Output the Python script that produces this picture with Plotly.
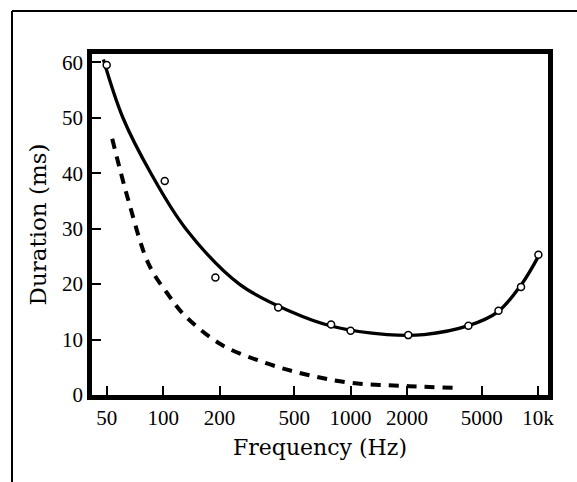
import plotly.graph_objects as go

# Measured durations (open circles)
point_freq = [50, 102, 190, 411, 787, 1000, 2030, 4250, 6150, 8110, 10040]
point_dur = [59.5, 38.6, 21.2, 15.8, 12.7, 11.6, 10.8, 12.5, 15.2, 19.5, 25.3]

# Smooth fitted curve (solid)
fit_freq = [48, 61, 86, 132, 255, 482, 794, 1567, 2465, 4250, 6100, 8180, 10040]
fit_dur = [60.5, 50.0, 40.0, 30.0, 20.0, 15.0, 12.4, 10.9, 10.9, 12.5, 15.0, 20.0, 25.0]

# Comparison curve (dashed)
dash_freq = [53.5, 65.5, 84, 108, 129, 204, 351, 578, 1000, 2055, 3540]
dash_dur = [46.2, 34.9, 23.5, 17.8, 14.5, 9.1, 5.8, 3.7, 2.2, 1.6, 1.3]

tick_vals = [50, 100, 200, 500, 1000, 2000, 5000, 10000]
tick_text = ["50", "100", "200", "500", "1000", "2000", "5000", "10k"]
y_ticks = [0, 10, 20, 30, 40, 50, 60]

fig = go.Figure()

fig.add_trace(go.Scatter(
    x=dash_freq, y=dash_dur, mode="lines",
    line=dict(color="black", width=4, dash="10px,8px", shape="spline", smoothing=1.0),
    hoverinfo="skip", showlegend=False,
))
fig.add_trace(go.Scatter(
    x=fit_freq, y=fit_dur, mode="lines",
    line=dict(color="black", width=3.3, shape="spline", smoothing=1.0),
    hoverinfo="skip", showlegend=False,
))
fig.add_trace(go.Scatter(
    x=point_freq, y=point_dur, mode="markers",
    marker=dict(symbol="circle", size=7, color="white",
                line=dict(color="black", width=1.5)),
    showlegend=False,
))

tick_font = dict(family="Liberation Serif", size=21, color="black")

fig.update_xaxes(
    type="log", range=[1.6205, 4.053],
    tickvals=tick_vals, ticktext=tick_text,
    ticks="inside", ticklen=9, tickwidth=2, tickcolor="black",
    showline=True, linewidth=4.5, linecolor="black", mirror=True,
    showgrid=False, zeroline=False, tickfont=tick_font,
    title=dict(text="Frequency (Hz)",
               font=dict(family="DejaVu Serif", size=22, color="black"),
               standoff=12),
)
fig.update_yaxes(
    range=[0, 61.5], tickvals=y_ticks,
    ticks="inside", ticklen=9, tickwidth=2, tickcolor="black",
    showline=True, linewidth=4.5, linecolor="black", mirror=True,
    showgrid=False, zeroline=False, tickfont=tick_font,
    title=dict(text="Duration (ms)",
               font=dict(family="DejaVu Serif", size=23, color="black"),
               standoff=10),
)

# Outer frame around the figure (left and top edges visible)
L, R, T, B = 92, 548, 54, 395
fx = (12 - L) / (R - L)
fy = (B - 11) / (B - T)
fig.add_shape(type="line", xref="paper", yref="paper",
              x0=fx, x1=fx, y0=-0.5, y1=fy,
              line=dict(color="black", width=2))
fig.add_shape(type="line", xref="paper", yref="paper",
              x0=fx, x1=1.2, y0=fy, y1=fy,
              line=dict(color="black", width=2))

fig.update_layout(
    width=577, height=482,
    margin=dict(l=L, r=577 - R, t=T, b=482 - B, autoexpand=False),
    paper_bgcolor="white", plot_bgcolor="white",
    showlegend=False,
)

fig.write_html("out.html")
